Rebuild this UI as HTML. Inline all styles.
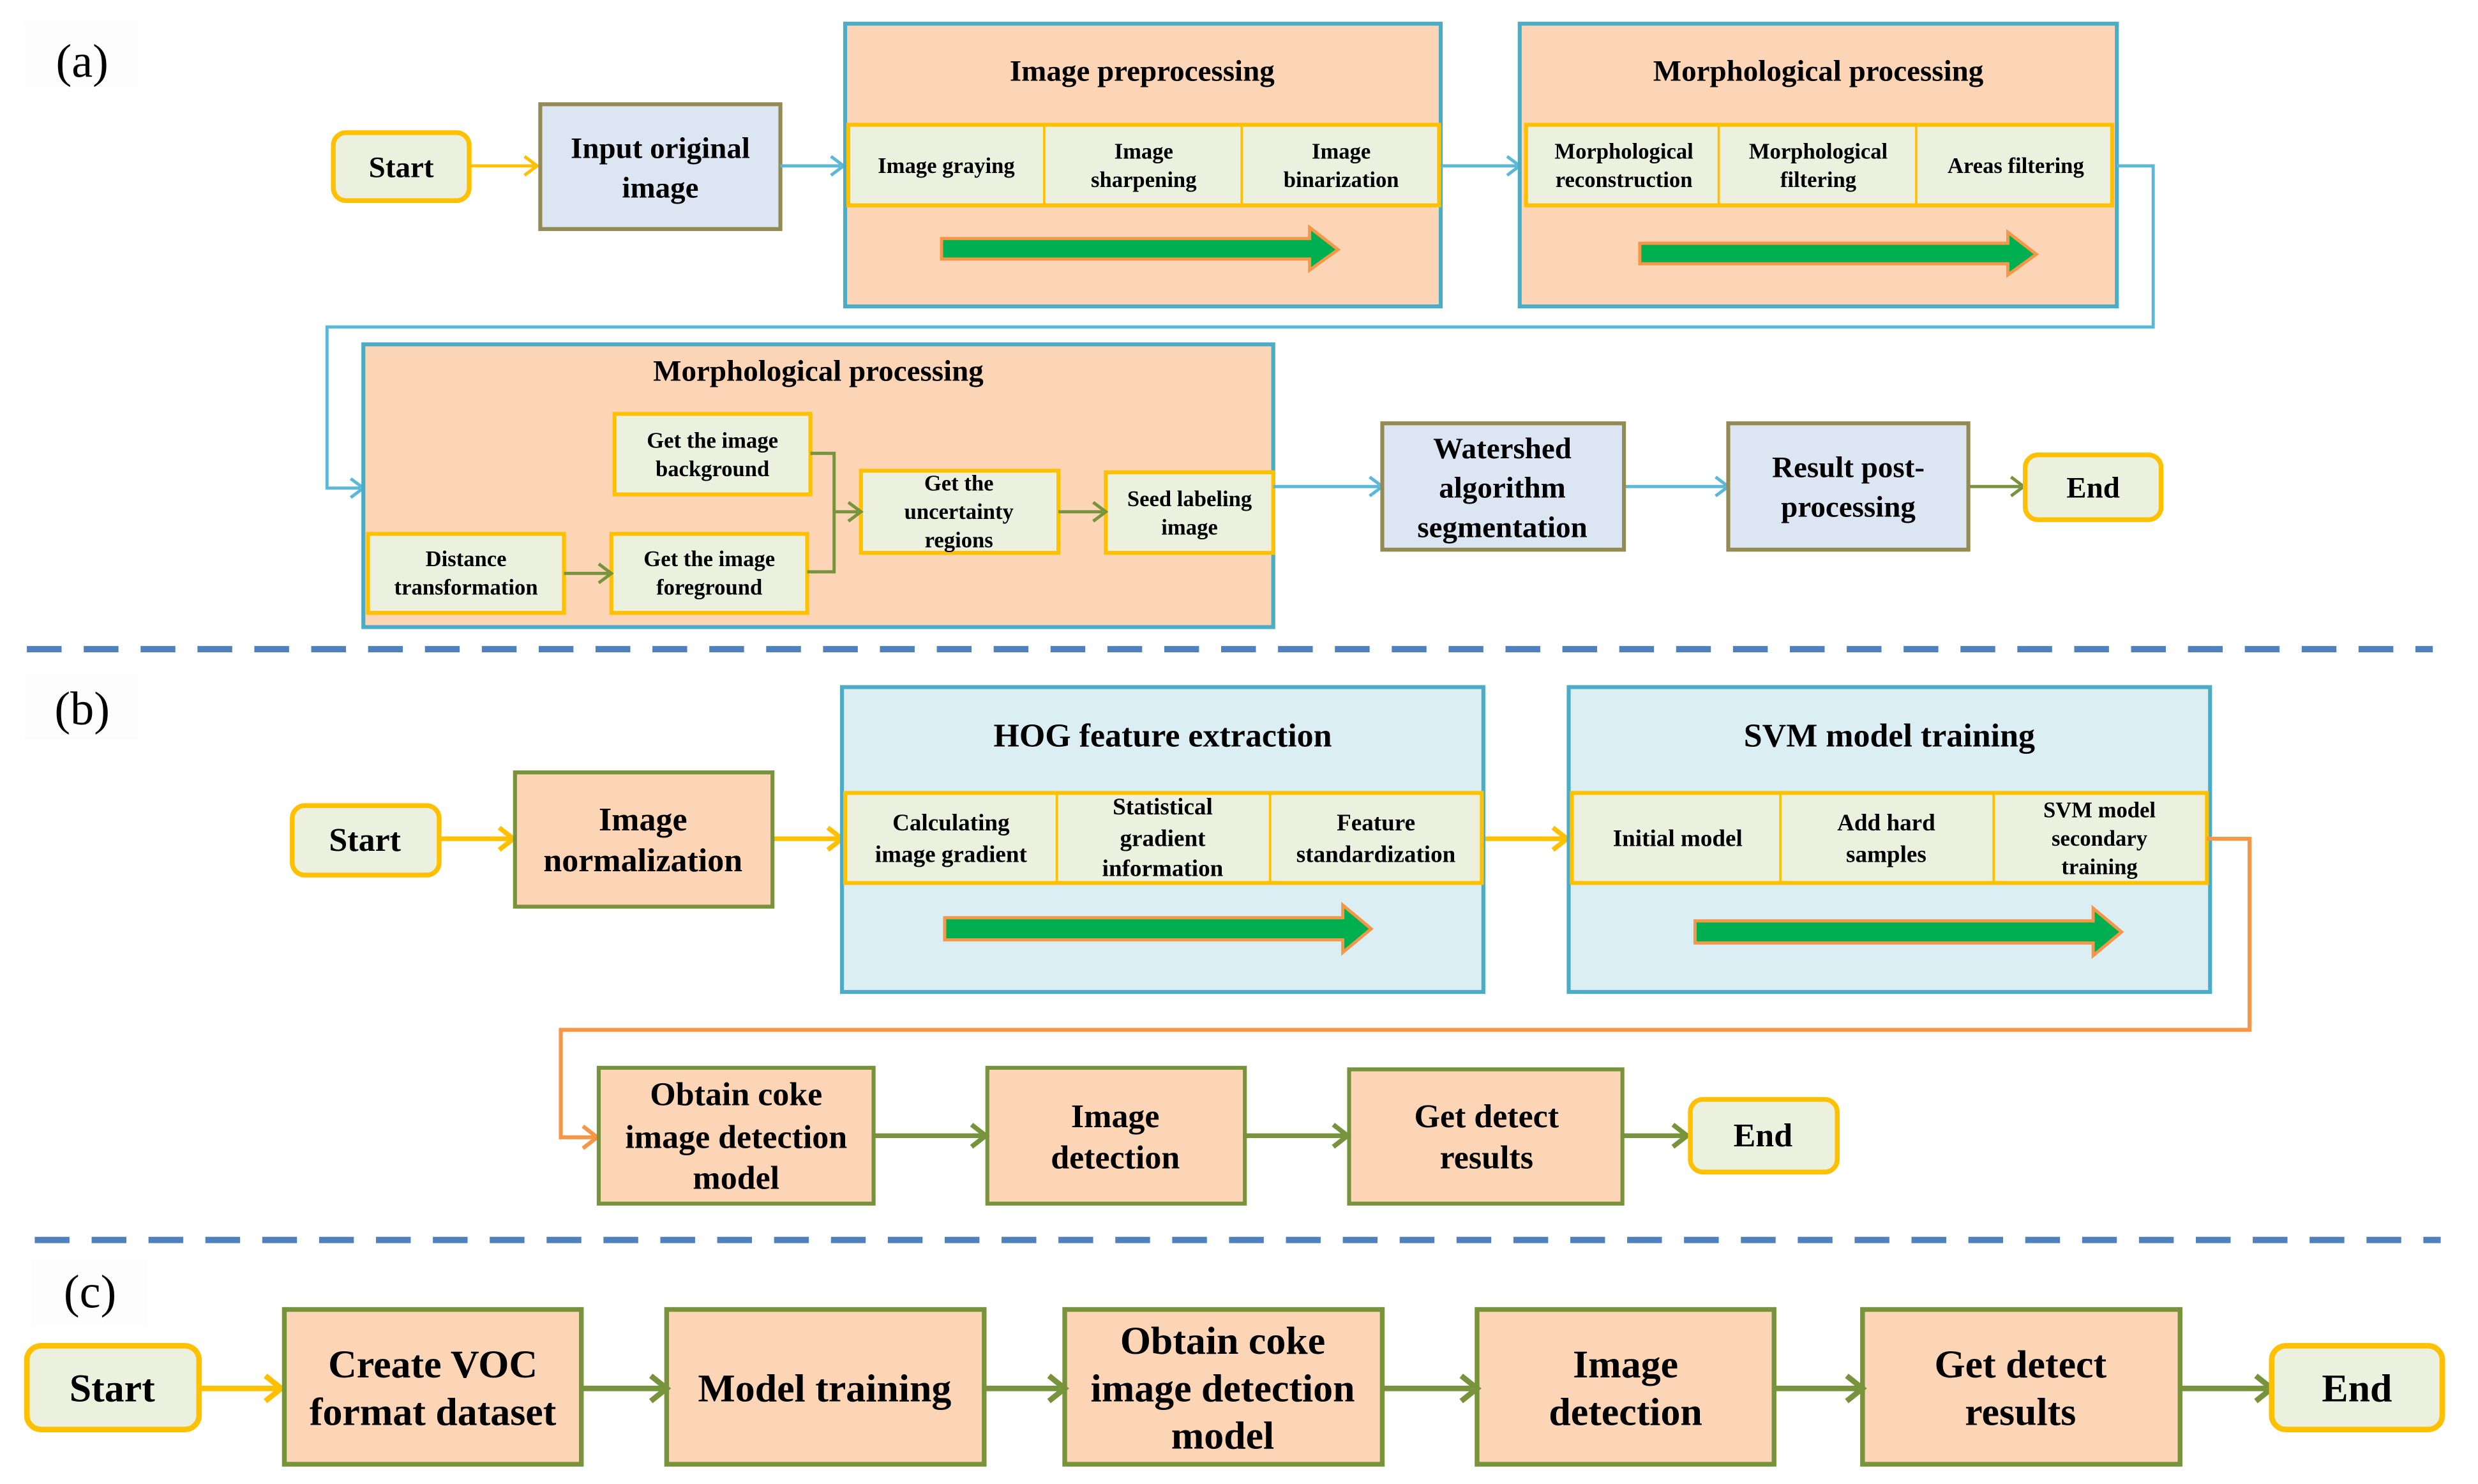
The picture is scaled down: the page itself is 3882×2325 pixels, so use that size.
<!DOCTYPE html>
<html><head><meta charset="utf-8"><style>
html,body{margin:0;padding:0;background:#fff;}
svg{display:block;}
text{font-family:"Liberation Serif",serif;font-weight:bold;fill:#000;text-anchor:middle;dominant-baseline:central;}
</style></head><body>
<svg width="3882" height="2325" viewBox="0 0 1568.6 939.5" preserveAspectRatio="none" xmlns="http://www.w3.org/2000/svg">
<style>
.r{fill:#fbd5b5;}
</style>
<rect width="1600" height="960" fill="#fff"/>

<!-- labels -->
<rect x="15" y="13" width="73" height="42" fill="#fdfdfd"/>
<text x="52" y="39" style="font-weight:normal;font-size:30px">(a)</text>
<rect x="15" y="426" width="73" height="42" fill="#fdfdfd"/>
<text x="52" y="449" style="font-weight:normal;font-size:30px">(b)</text>
<rect x="20" y="797" width="73" height="42" fill="#fdfdfd"/>
<text x="57" y="818" style="font-weight:normal;font-size:30px">(c)</text>

<!-- ===== (a) ===== -->
<rect x="211" y="84" width="86" height="43" rx="8" fill="#ebf1de" stroke="#ffc000" stroke-width="3"/>
<text x="254" y="106" font-size="19">Start</text>
<path d="M298 105 H338" stroke="#ffc000" stroke-width="2" fill="none"/><path d="M332 99 L340 105 L332 111" stroke="#ffc000" stroke-width="2" fill="none"/>

<rect x="342" y="66" width="152" height="79" fill="#dce6f2" stroke="#948a54" stroke-width="2.5"/>
<text x="418" y="94" font-size="19">Input original</text>
<text x="418" y="119" font-size="19">image</text>
<path d="M494 105 H532" stroke="#5bb8d8" stroke-width="2" fill="none"/><path d="M526 99 L534 105 L526 111" stroke="#5bb8d8" stroke-width="2" fill="none"/>

<rect x="535" y="15" width="377" height="179" class="r" stroke="#4bacc6" stroke-width="2.5"/>
<text x="723" y="45" font-size="19">Image preprocessing</text>
<rect x="537" y="79" width="374" height="51" fill="#ebf1de" stroke="#ffc000" stroke-width="2.5"/>
<path d="M661 79V130M786 79V130" stroke="#ffc000" stroke-width="1.5"/>
<text x="599" y="105" font-size="14">Image graying</text>
<text x="724" y="96" font-size="14">Image</text><text x="724" y="114" font-size="14">sharpening</text>
<text x="849" y="96" font-size="14">Image</text><text x="849" y="114" font-size="14">binarization</text>
<path d="M596 151 H829 V144 L847 158 L829 171 V164 H596 Z" fill="#00b050" stroke="#f79646" stroke-width="2"/>
<path d="M912 105 H960" stroke="#5bb8d8" stroke-width="2" fill="none"/><path d="M954 99 L962 105 L954 111" stroke="#5bb8d8" stroke-width="2" fill="none"/>

<rect x="962" y="15" width="378" height="179" class="r" stroke="#4bacc6" stroke-width="2.5"/>
<text x="1151" y="45" font-size="19">Morphological processing</text>
<rect x="966" y="79" width="371" height="51" fill="#ebf1de" stroke="#ffc000" stroke-width="2.5"/>
<path d="M1088 79V130M1213 79V130" stroke="#ffc000" stroke-width="1.5"/>
<text x="1028" y="96" font-size="14">Morphological</text><text x="1028" y="114" font-size="14">reconstruction</text>
<text x="1151" y="96" font-size="14">Morphological</text><text x="1151" y="114" font-size="14">filtering</text>
<text x="1276" y="105" font-size="14">Areas filtering</text>
<path d="M1038 154 H1271 V147 L1289 161 L1271 174 V167 H1038 Z" fill="#00b050" stroke="#f79646" stroke-width="2"/>

<path d="M1340 105 H1363 V207 H207 V309 H228" stroke="#5bb8d8" stroke-width="2" fill="none"/><path d="M222 303 L230 309 L222 315" stroke="#5bb8d8" stroke-width="2" fill="none"/>

<rect x="230" y="218" width="576" height="179" class="r" stroke="#4bacc6" stroke-width="2.5"/>
<text x="518" y="235" font-size="19">Morphological processing</text>
<g fill="#ebf1de" stroke="#ffc000" stroke-width="2.5">
<rect x="389" y="262" width="124" height="51"/>
<rect x="233" y="338" width="124" height="50"/>
<rect x="387" y="338" width="124" height="50"/>
<rect x="545" y="298" width="125" height="52"/>
<rect x="700" y="299" width="106" height="51"/>
</g>
<text x="451" y="279" font-size="14">Get the image</text><text x="451" y="297" font-size="14">background</text>
<text x="295" y="354" font-size="14">Distance</text><text x="295" y="372" font-size="14">transformation</text>
<text x="449" y="354" font-size="14">Get the image</text><text x="449" y="372" font-size="14">foreground</text>
<text x="607" y="306" font-size="14">Get the</text><text x="607" y="324" font-size="14">uncertainty</text><text x="607" y="342" font-size="14">regions</text>
<text x="753" y="316" font-size="14">Seed labeling</text><text x="753" y="334" font-size="14">image</text>
<g stroke="#77933c" stroke-width="2" fill="none">
<path d="M513 287 H528 V362 H511"/><path d="M528 324 H543"/><path d="M537 318 L545 324 L537 330"/>
<path d="M357 363 H385"/><path d="M379 357 L387 363 L379 369"/>
<path d="M670 324 H698"/><path d="M692 318 L700 324 L692 330"/>
<path d="M1246 308 H1279"/><path d="M1273 302 L1281 308 L1273 314"/>
</g>
<g stroke="#5bb8d8" stroke-width="2" fill="none">
<path d="M806 308 H873"/><path d="M867 302 L875 308 L867 314"/>
<path d="M1028 308 H1092"/><path d="M1086 302 L1094 308 L1086 314"/>
</g>
<rect x="875" y="268" width="153" height="80" fill="#dce6f2" stroke="#948a54" stroke-width="2.5"/>
<text x="951" y="284" font-size="19">Watershed</text><text x="951" y="309" font-size="19">algorithm</text><text x="951" y="334" font-size="19">segmentation</text>
<rect x="1094" y="268" width="152" height="80" fill="#dce6f2" stroke="#948a54" stroke-width="2.5"/>
<text x="1170" y="296" font-size="19">Result post-</text><text x="1170" y="321" font-size="19">processing</text>
<rect x="1282" y="288" width="86" height="41" rx="8" fill="#ebf1de" stroke="#ffc000" stroke-width="3"/>
<text x="1325" y="309" font-size="19">End</text>

<path d="M17 411 H1540" stroke="#4f81bd" stroke-width="4" stroke-dasharray="22 14"/>

<!-- ===== (b) ===== -->
<rect x="185" y="510" width="93" height="44" rx="8" fill="#ebf1de" stroke="#ffc000" stroke-width="3"/>
<text x="231" y="532" font-size="21">Start</text>
<g stroke="#ffc000" stroke-width="3" fill="none">
<path d="M278 531 H323"/><path d="M316 524 L325 531 L316 538"/>
<path d="M489 531 H531"/><path d="M524 524 L533 531 L524 538"/>
<path d="M939 531 H990"/><path d="M983 524 L992 531 L983 538"/>
</g>
<rect x="326" y="489" width="163" height="85" class="r" stroke="#77933c" stroke-width="2.5"/>
<text x="407" y="519" font-size="21">Image</text><text x="407" y="545" font-size="21">normalization</text>

<rect x="533" y="435" width="406" height="193" fill="#dbeef4" stroke="#4bacc6" stroke-width="2.5"/>
<text x="736" y="466" font-size="21">HOG feature extraction</text>
<rect x="535" y="502" width="403" height="57" fill="#ebf1de" stroke="#ffc000" stroke-width="2.5"/>
<path d="M669 502V559M804 502V559" stroke="#ffc000" stroke-width="1.5"/>
<text x="602" y="521" font-size="15">Calculating</text><text x="602" y="541" font-size="15">image gradient</text>
<text x="736" y="511" font-size="15">Statistical</text><text x="736" y="531" font-size="15">gradient</text><text x="736" y="550" font-size="15">information</text>
<text x="871" y="521" font-size="15">Feature</text><text x="871" y="541" font-size="15">standardization</text>
<path d="M598 581 H850 V573 L868 588 L850 603 V595 H598 Z" fill="#00b050" stroke="#f79646" stroke-width="2"/>

<rect x="993" y="435" width="406" height="193" fill="#dbeef4" stroke="#4bacc6" stroke-width="2.5"/>
<text x="1196" y="466" font-size="21">SVM model training</text>
<rect x="995" y="502" width="402" height="57" fill="#ebf1de" stroke="#ffc000" stroke-width="2.5"/>
<path d="M1127 502V559M1262 502V559" stroke="#ffc000" stroke-width="1.5"/>
<text x="1062" y="531" font-size="15">Initial model</text>
<text x="1194" y="521" font-size="15">Add hard</text><text x="1194" y="541" font-size="15">samples</text>
<text x="1329" y="513" font-size="14">SVM model</text><text x="1329" y="531" font-size="14">secondary</text><text x="1329" y="549" font-size="14">training</text>
<path d="M1073 583 H1325 V575 L1343 590 L1325 605 V597 H1073 Z" fill="#00b050" stroke="#f79646" stroke-width="2"/>

<path d="M1397 531 H1424 V652 H355 V720 H376" stroke="#f79646" stroke-width="2.5" fill="none"/><path d="M369 713 L378 720 L369 727" stroke="#f79646" stroke-width="2.5" fill="none"/>

<g class="r" stroke="#77933c" stroke-width="2.5">
<rect x="379" y="676" width="174" height="86"/>
<rect x="625" y="676" width="163" height="86"/>
<rect x="854" y="677" width="173" height="85"/>
</g>
<text x="466" y="693" font-size="21">Obtain coke</text><text x="466" y="720" font-size="21">image detection</text><text x="466" y="746" font-size="21">model</text>
<text x="706" y="707" font-size="21">Image</text><text x="706" y="733" font-size="21">detection</text>
<text x="941" y="707" font-size="21">Get detect</text><text x="941" y="733" font-size="21">results</text>
<g stroke="#77933c" stroke-width="3" fill="none">
<path d="M553 719 H622"/><path d="M615 712 L624 719 L615 726"/>
<path d="M788 719 H851"/><path d="M844 712 L853 719 L844 726"/>
<path d="M1027 719 H1066"/><path d="M1059 712 L1068 719 L1059 726"/>
</g>
<rect x="1070" y="696" width="93" height="46" rx="8" fill="#ebf1de" stroke="#ffc000" stroke-width="3"/>
<text x="1116" y="719" font-size="21">End</text>

<path d="M22 785 H1545" stroke="#4f81bd" stroke-width="4" stroke-dasharray="22 14"/>

<!-- ===== (c) ===== -->
<rect x="17" y="852" width="109" height="53" rx="9" fill="#ebf1de" stroke="#ffc000" stroke-width="3.5"/>
<text x="71" y="879" font-size="25">Start</text>
<path d="M126 879 H175" stroke="#ffc000" stroke-width="3.5" fill="none"/><path d="M168 871 L178 879 L168 887" stroke="#ffc000" stroke-width="3.5" fill="none"/>
<g class="r" stroke="#77933c" stroke-width="3">
<rect x="180" y="829" width="188" height="98"/>
<rect x="422" y="829" width="201" height="98"/>
<rect x="674" y="829" width="201" height="98"/>
<rect x="935" y="829" width="188" height="98"/>
<rect x="1179" y="829" width="201" height="98"/>
</g>
<text x="274" y="864" font-size="25">Create VOC</text><text x="274" y="894" font-size="25">format dataset</text>
<text x="522" y="879" font-size="25">Model training</text>
<text x="774" y="849" font-size="25">Obtain coke</text><text x="774" y="879" font-size="25">image detection</text><text x="774" y="909" font-size="25">model</text>
<text x="1029" y="864" font-size="25">Image</text><text x="1029" y="894" font-size="25">detection</text>
<text x="1279" y="864" font-size="25">Get detect</text><text x="1279" y="894" font-size="25">results</text>
<g stroke="#77933c" stroke-width="3.5" fill="none">
<path d="M368 879 H419"/><path d="M412 871 L422 879 L412 887"/>
<path d="M623 879 H671"/><path d="M664 871 L674 879 L664 887"/>
<path d="M875 879 H932"/><path d="M925 871 L935 879 L925 887"/>
<path d="M1123 879 H1176"/><path d="M1169 871 L1179 879 L1169 887"/>
<path d="M1380 879 H1435"/><path d="M1428 871 L1438 879 L1428 887"/>
</g>
<rect x="1438" y="852" width="108" height="53" rx="9" fill="#ebf1de" stroke="#ffc000" stroke-width="3.5"/>
<text x="1492" y="879" font-size="25">End</text>
</svg>
</body></html>
